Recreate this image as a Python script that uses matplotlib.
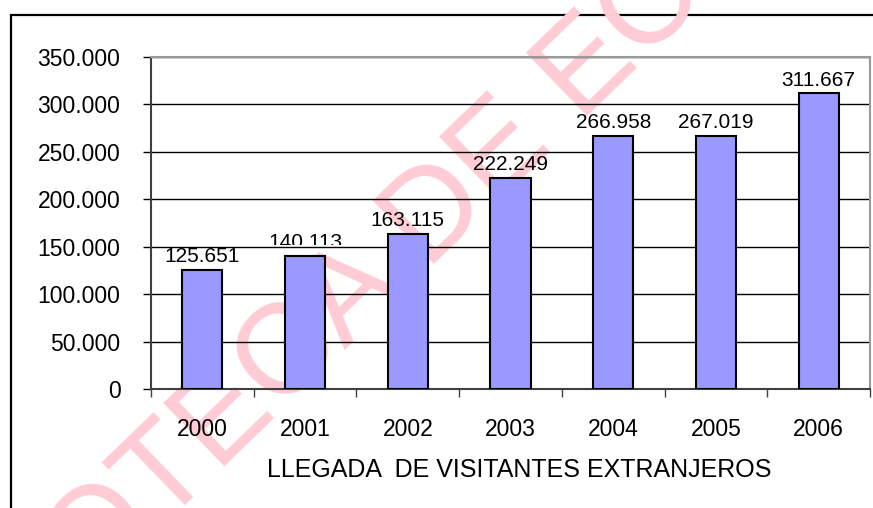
import matplotlib.pyplot as plt
from matplotlib.patches import Rectangle
from matplotlib.ticker import FixedLocator, FuncFormatter
from matplotlib.transforms import Bbox, TransformedBbox

# Datos: llegada de visitantes extranjeros
years = ['2000', '2001', '2002', '2003', '2004', '2005', '2006']
visitors = [125651, 140113, 163115, 222249, 266958, 267019, 311667]
y_ticks = [0, 50000, 100000, 150000, 200000, 250000, 300000, 350000]

plt.rcParams['font.family'] = ['Liberation Sans', 'DejaVu Sans']


def miles(v):
    # formato con punto como separador de miles
    return f'{int(v):,}'.replace(',', '.')


fig = plt.figure(figsize=(8.73, 5.08), dpi=100)

# marco exterior del grafico
fig.patches.append(Rectangle((11 / 873, -0.1), 1.2, (508 - 15) / 508 + 0.1,
                             transform=fig.transFigure, fill=False,
                             edgecolor='black', linewidth=1.6, zorder=0))

# marca de agua
fig.text(0.515, 0.60, 'BIBLIOTECA DE ECONOMIA', fontsize=92, rotation=44,
         rotation_mode='anchor', ha='center', va='center', color='#FFCCD6',
         zorder=0.5)

ax = fig.add_axes([151 / 873, 1 - 389 / 508, (870 - 151) / 873, (389 - 57) / 508])
ax.set_facecolor('none')
ax.set_zorder(1)

x = range(len(years))
bars = ax.bar(x, visitors, width=0.39, color='#9999FF', edgecolor='black',
              linewidth=1.5, zorder=3)

for xi, v in zip(x, visitors):
    t = ax.text(xi, v + 4000, miles(v), ha='center', va='bottom', fontsize=15,
                zorder=4)
    if xi == 1:
        # en el original la etiqueta de 2001 aparece recortada por abajo
        t.set_clip_box(TransformedBbox(Bbox([[0.5, 152000], [1.5, 200000]]),
                                       ax.transData))
        t.set_clip_on(True)

ax.set_xlim(-0.5, len(years) - 0.5)
ax.set_ylim(0, 350000)
ax.set_yticks(y_ticks)
ax.yaxis.set_major_formatter(FuncFormatter(lambda v, p: miles(v)))
ax.set_xticks(list(x))
ax.set_xticklabels(years)
ax.xaxis.set_minor_locator(FixedLocator([i - 0.5 for i in range(len(years) + 1)]))

ax.tick_params(axis='y', direction='out', length=6, width=1, pad=16,
               labelsize=16.5, color='black')
ax.tick_params(axis='x', which='major', length=0, pad=21, labelsize=16.5)
ax.tick_params(axis='x', which='minor', direction='out', length=6, width=1,
               color='#404040')

ax.grid(axis='y', color='black', linewidth=1)
ax.set_axisbelow(True)

ax.spines['left'].set_color('#404040')
ax.spines['left'].set_linewidth(1.5)
ax.spines['bottom'].set_color('#404040')
ax.spines['bottom'].set_linewidth(1.5)
ax.spines['top'].set_color('#999999')
ax.spines['top'].set_linewidth(1.5)
ax.spines['right'].set_color('#999999')
ax.spines['right'].set_linewidth(1.5)

fig.text(519 / 873, 1 - 470 / 508, 'LLEGADA  DE VISITANTES EXTRANJEROS',
         ha='center', va='center', fontsize=18)

fig.savefig('out.png', dpi=100)
